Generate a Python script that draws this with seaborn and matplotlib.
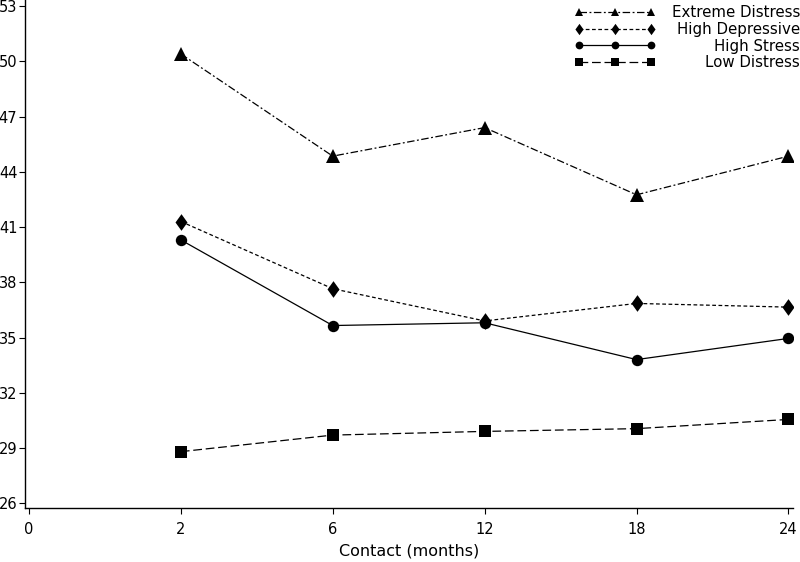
import matplotlib
matplotlib.use('Agg')
import matplotlib.pyplot as plt
import seaborn as sns
import pandas as pd

# x axis is categorical: 0 only appears as a tick
tick_labels = ['0', '2', '6', '12', '18', '24']
months = ['2', '6', '12', '18', '24']

groups = ['Extreme Distress', 'High Depressive', 'High Stress', 'Low Distress']
extreme_distress = [50.4, 44.85, 46.4, 42.75, 44.85]
high_depressive = [41.3, 37.65, 35.9, 36.85, 36.65]
high_stress = [40.3, 35.65, 35.8, 33.8, 34.95]
low_distress = [28.8, 29.7, 29.9, 30.05, 30.55]

y_ticks = list(range(26, 54, 3))

rows = []
for g, vals in zip(groups, [extreme_distress, high_depressive, high_stress, low_distress]):
    for m, v in zip(months, vals):
        rows.append({'group': g, 'pos': tick_labels.index(m), 'score': v})
df = pd.DataFrame(rows)

sns.set_theme(style='ticks')
plt.rcParams['font.family'] = ['DejaVu Sans']
plt.rcParams['text.color'] = 'black'
plt.rcParams['axes.labelcolor'] = 'black'

diamond = [(0, -1), (0.72, 0), (0, 1), (-0.72, 0), (0, -1)]
styles = {
    'Extreme Distress': dict(marker='^', markersize=9.5, dashes=(6, 2, 1.5, 2)),
    'High Depressive': dict(marker=diamond, markersize=12, dashes=(3, 2)),
    'High Stress': dict(marker='o', markersize=8.2, dashes=None),
    'Low Distress': dict(marker='s', markersize=8.8, dashes=(7, 3)),
}

fig = plt.figure(figsize=(8, 5.62), dpi=100)
ax = fig.add_axes([25 / 800, (562 - 508) / 562, 768 / 800, 508 / 562])

for g in groups:
    st = styles[g]
    sub = df[df['group'] == g]
    line_kw = dict(marker=st['marker'], markersize=st['markersize'],
                   color='black', linewidth=0.9, markeredgewidth=0)
    if st['dashes'] is not None:
        line_kw['dashes'] = st['dashes']
    sns.lineplot(data=sub, x='pos', y='score', ax=ax, label=g, **line_kw)

ax.set_xlim(-0.026, 5.03)
ax.set_ylim(25.74, 53.33)
ax.set_xticks(range(len(tick_labels)))
ax.set_xticklabels(tick_labels)
ax.set_yticks(y_ticks)
ax.set_xlabel('Contact (months)', fontsize=11.5, labelpad=5, color='black')
ax.set_ylabel('')
sns.despine(ax=ax)
for s in ['left', 'bottom']:
    ax.spines[s].set_linewidth(1.0)
    ax.spines[s].set_color('black')
ax.tick_params(axis='both', direction='out', length=4, width=0.8,
               color='black', labelsize=10.5, labelcolor='black')
ax.tick_params(axis='y', pad=1.5)
ax.tick_params(axis='x', pad=6)

leg = ax.legend(loc='upper right', bbox_to_anchor=(1.0, 1 - 5 / 562),
                bbox_transform=fig.transFigure, frameon=False,
                numpoints=3, markerscale=0.68, handlelength=5.4,
                handletextpad=1.07, labelspacing=0.12, borderpad=0.0,
                borderaxespad=0, fontsize=10.8, labelcolor='black')

# right-align the legend texts by offsetting the shorter ones
fig.canvas.draw()
renderer = fig.canvas.get_renderer()
widths = [t.get_window_extent(renderer).width for t in leg.get_texts()]
w_max = max(widths)
for t, w in zip(leg.get_texts(), widths):
    t.set_position((w_max - w, 0))

plt.savefig('out.png', dpi=100)
plt.close()
